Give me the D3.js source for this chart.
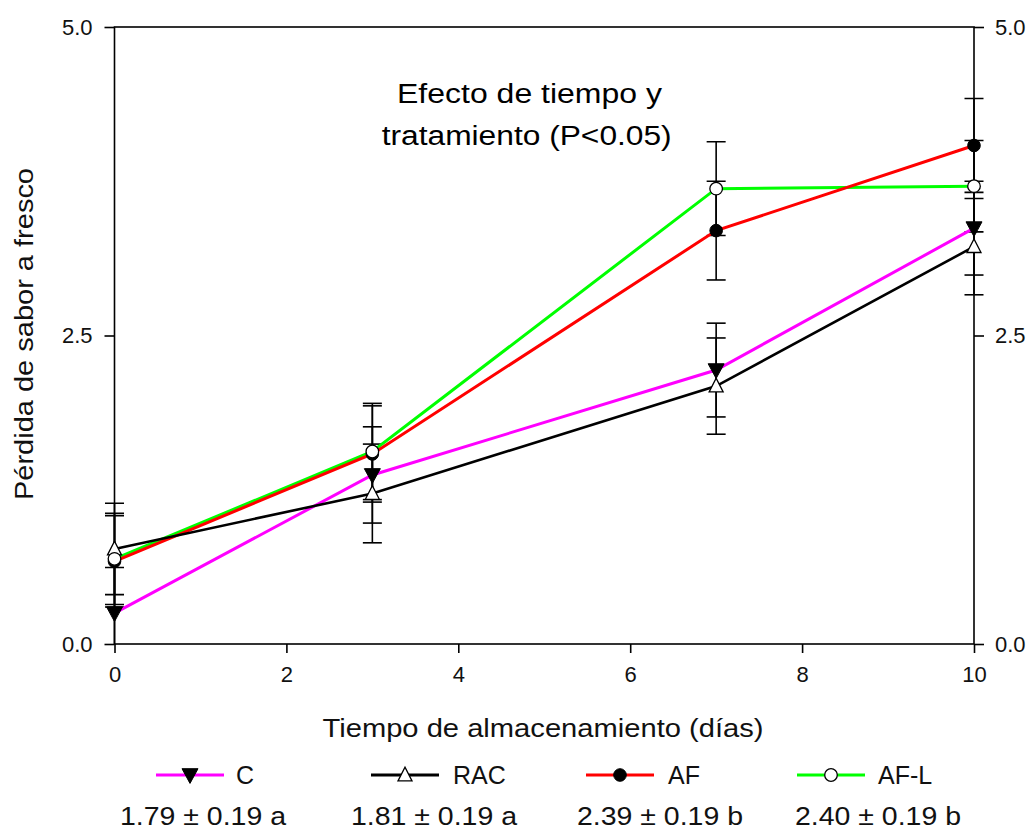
<!DOCTYPE html>
<html>
<head>
<meta charset="utf-8">
<script src="https://cdn.jsdelivr.net/npm/d3@7"></script>
<style>
  html, body { margin: 0; padding: 0; background: #fff; }
  svg { display: block; font-family: "Liberation Sans", Arial, sans-serif; }
</style>
</head>
<body>
<svg id="chart" width="1032" height="833"></svg>
<script>
// ---- data ----
const days = [0, 3, 7, 10];
const seriesNames = ["C", "RAC", "AF", "AF-L"];
const valuesC   = [0.25, 1.37, 2.22, 3.37];
const valuesRAC = [0.77, 1.22, 2.09, 3.22];
const valuesAF  = [0.67, 1.54, 3.35, 4.04];
const valuesAFL = [0.69, 1.56, 3.69, 3.71];
const errC   = [0.37, 0.39, 0.38, 0.38];
const errRAC = [0.37, 0.40, 0.39, 0.39];
const errAF  = [0.37, 0.39, 0.40, 0.38];
const errAFL = [0.37, 0.39, 0.38, 0.37];
const meanLabels = ["1.79 ± 0.19 a", "1.81 ± 0.19 a", "2.39 ± 0.19 b", "2.40 ± 0.19 b"];
const xTicks = [0, 2, 4, 6, 8, 10];
const yTicks = [0, 2.5, 5.0];
const xTitle = "Tiempo de almacenamiento (días)";
const yTitle = "Pérdida de sabor a fresco";
const noteLines = ["Efecto de tiempo y", "tratamiento (P<0.05)"];

(function () {
// ---- styling ----
const colors = {"C": "#ff00ff", "RAC": "#000000", "AF": "#ff0000", "AF-L": "#00ff00"};
const symbols = {"C": "triDown", "RAC": "triUp", "AF": "circleFill", "AF-L": "circleOpen"};

const series = [
  {name: "C", values: valuesC, err: errC},
  {name: "RAC", values: valuesRAC, err: errRAC},
  {name: "AF", values: valuesAF, err: errAF},
  {name: "AF-L", values: valuesAFL, err: errAFL}
];

const svg = d3.select("#chart");
const pl = 114.5, pr = 974, pt = 27, pb = 644;
const x = d3.scaleLinear().domain([0, 10]).range([pl, pr]);
const y = d3.scaleLinear().domain([0, 5]).range([pb, pt]);

svg.append("defs").append("clipPath").attr("id", "plotclip")
  .append("rect").attr("x", pl - 20).attr("y", pt).attr("width", pr - pl + 40).attr("height", pb - pt);

// frame
svg.append("rect").attr("x", pl).attr("y", pt).attr("width", pr - pl).attr("height", pb - pt)
  .attr("fill", "none").attr("stroke", "#000").attr("stroke-width", 1.6);

// axes
const axL = svg.append("g").attr("transform", `translate(${pl},0)`)
  .call(d3.axisLeft(y).tickValues(yTicks).tickSize(10).tickPadding(12).tickFormat(d3.format(".1f")));
const axR = svg.append("g").attr("transform", `translate(${pr},0)`)
  .call(d3.axisRight(y).tickValues(yTicks).tickSize(10).tickPadding(11).tickFormat(d3.format(".1f")));
const axB = svg.append("g").attr("transform", `translate(0,${pb})`)
  .call(d3.axisBottom(x).tickValues(xTicks).tickSize(9).tickPadding(13).tickFormat(d3.format("d")));
[axL, axR, axB].forEach(g => {
  g.select(".domain").remove();
  g.selectAll(".tick line").attr("stroke", "#000").attr("stroke-width", 1.6);
  g.selectAll(".tick text").attr("font-size", 22).attr("fill", "#111")
    .attr("font-family", "'Liberation Sans', Arial, sans-serif");
});

// plot content
const plot = svg.append("g").attr("clip-path", "url(#plotclip)");

// error bars
const capW = 9.5;
series.forEach(s => {
  const g = plot.append("g");
  days.forEach((d, i) => {
    const cx = x(d), y1 = y(s.values[i] + s.err[i]), y2 = y(s.values[i] - s.err[i]);
    g.append("line").attr("x1", cx).attr("x2", cx).attr("y1", y1).attr("y2", y2)
      .attr("stroke", "#000").attr("stroke-width", 1.6);
    [y1, y2].forEach(yy => g.append("line").attr("x1", cx - capW).attr("x2", cx + capW)
      .attr("y1", yy).attr("y2", yy).attr("stroke", "#000").attr("stroke-width", 1.6));
  });
});

// lines (draw order: C, AF-L, AF, RAC)
const lineGen = d3.line().x((d, i) => x(days[i])).y(d => y(d));
const drawOrder = ["C", "AF-L", "AF", "RAC"];
drawOrder.forEach(n => {
  const s = series.find(t => t.name === n);
  plot.append("path").datum(s.values).attr("d", lineGen)
    .attr("fill", "none").attr("stroke", colors[n]).attr("stroke-width", n === "RAC" ? 2.6 : 3);
});

function drawSymbol(g, type, cx, cy) {
  if (type === "triDown") {
    const w = 8, h = 14;
    g.append("path").attr("d", `M${cx - w},${cy - h * 0.45} L${cx + w},${cy - h * 0.45} L${cx},${cy + h * 0.6} Z`)
      .attr("fill", "#000").attr("stroke", "#000").attr("stroke-width", 1);
  } else if (type === "triUp") {
    const w = 7, h = 13;
    g.append("path").attr("d", `M${cx - w},${cy + h * 0.45} L${cx + w},${cy + h * 0.45} L${cx},${cy - h * 0.6} Z`)
      .attr("fill", "#fff").attr("stroke", "#000").attr("stroke-width", 1.3);
  } else if (type === "circleFill") {
    g.append("circle").attr("cx", cx).attr("cy", cy).attr("r", 6.3)
      .attr("fill", "#000").attr("stroke", "#000").attr("stroke-width", 1);
  } else {
    g.append("circle").attr("cx", cx).attr("cy", cy).attr("r", 6.3)
      .attr("fill", "#fff").attr("stroke", "#000").attr("stroke-width", 1.3);
  }
}

// markers
const markG = svg.append("g");
series.forEach(s => {
  days.forEach((d, i) => drawSymbol(markG, symbols[s.name], x(d), y(s.values[i])));
});

// annotation
const note = svg.append("g").attr("font-size", 27).attr("fill", "#000");
note.append("text").attr("x", 529.5).attr("y", 103).attr("text-anchor", "middle")
  .attr("textLength", 265).attr("lengthAdjust", "spacingAndGlyphs").text(noteLines[0]);
note.append("text").attr("x", 526.7).attr("y", 145).attr("text-anchor", "middle")
  .attr("textLength", 290).attr("lengthAdjust", "spacingAndGlyphs").text(noteLines[1]);

// axis titles
svg.append("text").attr("x", 543).attr("y", 737).attr("text-anchor", "middle")
  .attr("font-size", 25).attr("fill", "#111")
  .attr("textLength", 441).attr("lengthAdjust", "spacingAndGlyphs").text(xTitle);
svg.append("text").attr("transform", "translate(33,334) rotate(-90)").attr("text-anchor", "middle")
  .attr("font-size", 26).attr("fill", "#111")
  .attr("textLength", 332).attr("lengthAdjust", "spacingAndGlyphs").text(yTitle);

// legend
const legX = [190, 405, 620, 831];      // symbol centers
const legTextX = [236, 453, 668, 878];
const valCenter = [203, 434, 660, 878];
const leg = svg.append("g");
seriesNames.forEach((n, i) => {
  leg.append("line").attr("x1", legX[i] - 34).attr("x2", legX[i] + 34).attr("y1", 775).attr("y2", 775)
    .attr("stroke", colors[n]).attr("stroke-width", 3);
  drawSymbol(leg, symbols[n], legX[i], 775);
  leg.append("text").attr("x", legTextX[i]).attr("y", 784).attr("font-size", 25).attr("fill", "#111").text(n);
  leg.append("text").attr("x", valCenter[i]).attr("y", 825).attr("text-anchor", "middle")
    .attr("font-size", 25).attr("fill", "#111")
    .attr("textLength", 166).attr("lengthAdjust", "spacingAndGlyphs").text(meanLabels[i]);
});
})();
</script>
</body>
</html>
